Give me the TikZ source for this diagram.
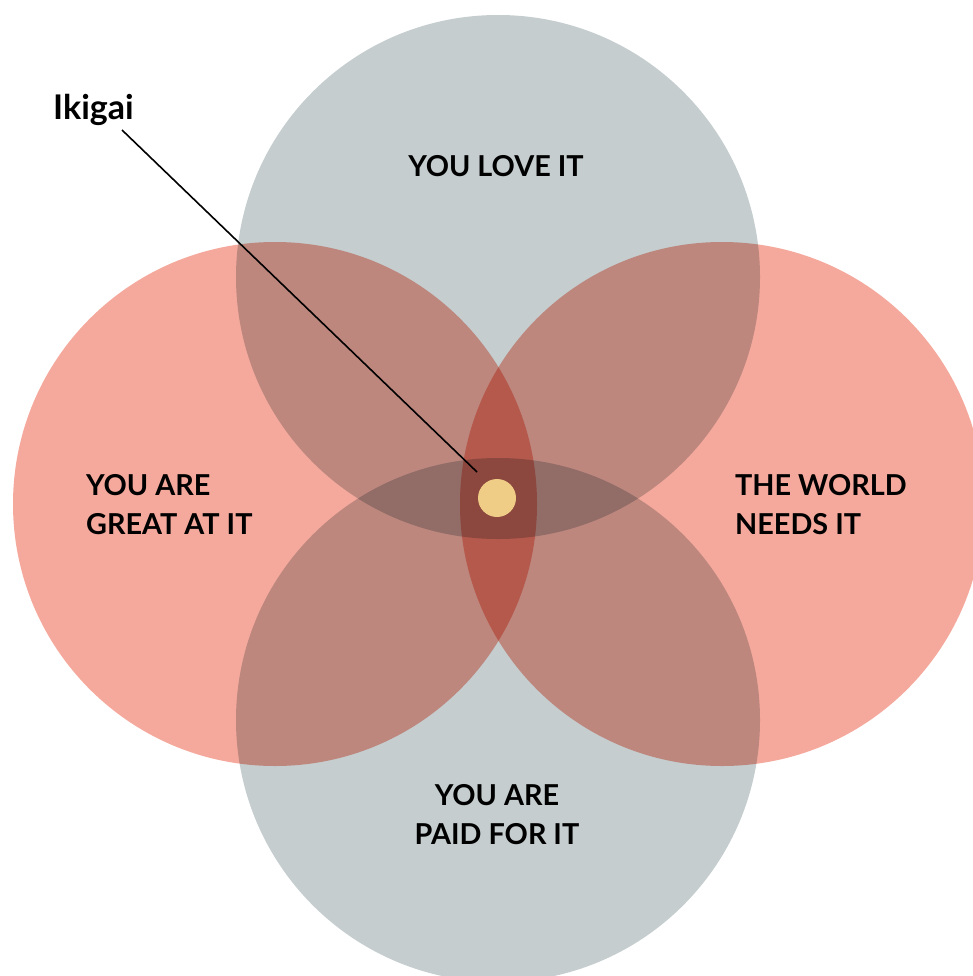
\documentclass[tikz,border=0pt]{standalone}
\usepackage{fontspec}
\setmainfont{Lato}
\definecolor{ringgray}{RGB}{197,205,206}
\definecolor{ringred}{RGB}{245,169,157}
\definecolor{dotyellow}{RGB}{240,205,134}
\begin{document}
\begin{tikzpicture}[x=1pt,y=-1pt,
  lbl/.style={font=\bfseries\fontsize{28.8}{39}\selectfont, inner sep=0pt, text=black},
  ring/.style={circle, minimum size=524pt, inner sep=0pt, draw=none}]
\useasboundingbox (0,0) rectangle (973,976);
\begin{scope}[blend group=multiply]
  \node[ring, fill=ringgray] (love) at (498,277) {};
  \node[ring, fill=ringgray] (paid) at (498,720) {};
  \node[ring, fill=ringred] (great) at (275,504) {};
  \node[ring, fill=ringred] (world) at (722,504) {};
\end{scope}
\node[circle, fill=dotyellow, minimum size=38pt, inner sep=0pt] (dot) at (497,498) {};
\coordinate (lineStart) at (122,130);
\coordinate (lineEnd) at (477,472);
\draw[line width=1.6pt] (lineStart) -- (lineEnd);
\node[font=\bfseries\fontsize{34}{40}\selectfont, inner sep=0pt, anchor=base west] (ikigai) at (53,120) {Ikigai};
\node[lbl, anchor=base] (tlove) at (496,177) {YOU LOVE IT};
\node[lbl, anchor=base west, align=left] (tgreat) at (86,534) {YOU ARE\\GREAT AT IT};
\node[lbl, anchor=base west, align=left] (tworld) at (735,534) {THE WORLD\\NEEDS IT};
\node[lbl, anchor=base, align=center] (tpaid) at (497,844) {YOU ARE\\PAID FOR IT};
\end{tikzpicture}
\end{document}
